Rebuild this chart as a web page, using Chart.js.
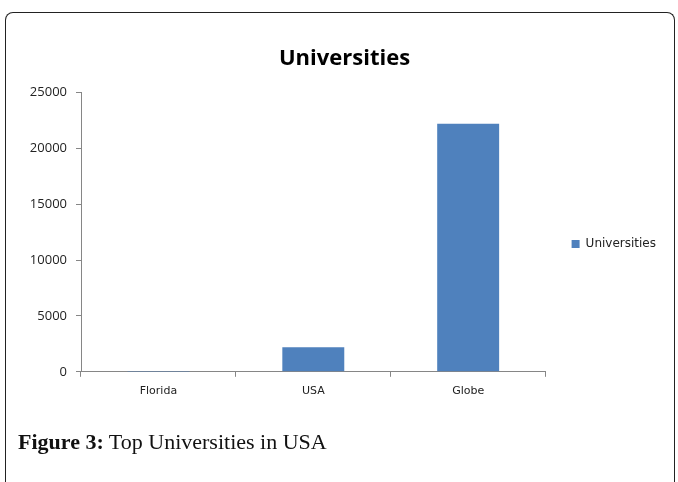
<!DOCTYPE html>
<html>
<head>
<meta charset="utf-8">
<script src="https://cdn.jsdelivr.net/npm/chart.js@4/dist/chart.umd.min.js"></script>
<style>
  html, body { margin: 0; padding: 0; background: #fff; overflow: hidden; }
  #frame {
    position: absolute; left: 5px; top: 12px; width: 670px; height: 480px;
    border: 1.5px solid #222; border-bottom: none; border-radius: 8px 8px 0 0;
    box-sizing: border-box;
  }
  #wrap { position: absolute; left: 0; top: 0; width: 678px; height: 482px; }
  #caption {
    position: absolute; left: 18px; top: 429px;
    font-family: "Liberation Serif", serif; font-size: 22px; color: #111;
  }
  #caption b { font-weight: bold; }
</style>
</head>
<body>
<div id="frame"></div>
<div id="wrap"><canvas id="chart"></canvas></div>
<div id="caption"><b>Figure 3:</b> Top Universities in USA</div>
<script>
const categories = ['Florida', 'USA', 'Globe'];
const universities = [12, 2200, 22200];
const yTicks = [0, 5000, 10000, 15000, 20000, 25000];

const axisGrey = '#868686';

const ctx = document.getElementById('chart').getContext('2d');
new Chart(ctx, {
  type: 'bar',
  data: {
    labels: categories,
    datasets: [{
      label: 'Universities',
      data: universities,
      backgroundColor: '#4f81bd',
      borderWidth: 0,
      barPercentage: 0.4,
      categoryPercentage: 1.0
    }]
  },
  options: {
    responsive: true,
    maintainAspectRatio: false,
    animation: false,
    layout: { padding: { left: 23, right: 12, top: 0, bottom: 76 } },
    plugins: {
      title: {
        display: true,
        text: 'Universities',
        color: '#000',
        font: { family: 'Open Sans', size: 22, weight: 'bold' },
        padding: { top: 46, bottom: 20 }
      },
      legend: {
        position: 'right',
        // blank legend title just pushes the entry down beside the bars
        title: { display: true, text: ' ', font: { size: 1 }, padding: { top: 81, bottom: 0 } },
        labels: {
          color: '#222',
          boxWidth: 8,
          boxHeight: 8,
          padding: 26,
          font: { family: 'DejaVu Sans', size: 12 }
        }
      },
      tooltip: { enabled: false }
    },
    scales: {
      y: {
        min: 0,
        max: 25000,
        afterBuildTicks: axis => { axis.ticks = yTicks.map(v => ({ value: v })); },
        afterFit: axis => { axis.width = 58; },
        border: { color: axisGrey, width: 1 },
        grid: { drawOnChartArea: false, drawTicks: true, tickLength: 5, color: axisGrey },
        ticks: {
          color: '#222',
          padding: 9,
          font: { family: 'Open Sans', size: 13 },
          callback: v => String(v)
        }
      },
      x: {
        border: { color: axisGrey, width: 1 },
        grid: { offset: true, drawOnChartArea: false, drawTicks: true, tickLength: 5, color: axisGrey },
        ticks: { color: '#222', padding: 8, font: { family: 'DejaVu Sans', size: 11 } }
      }
    }
  }
});
</script>
</body>
</html>
